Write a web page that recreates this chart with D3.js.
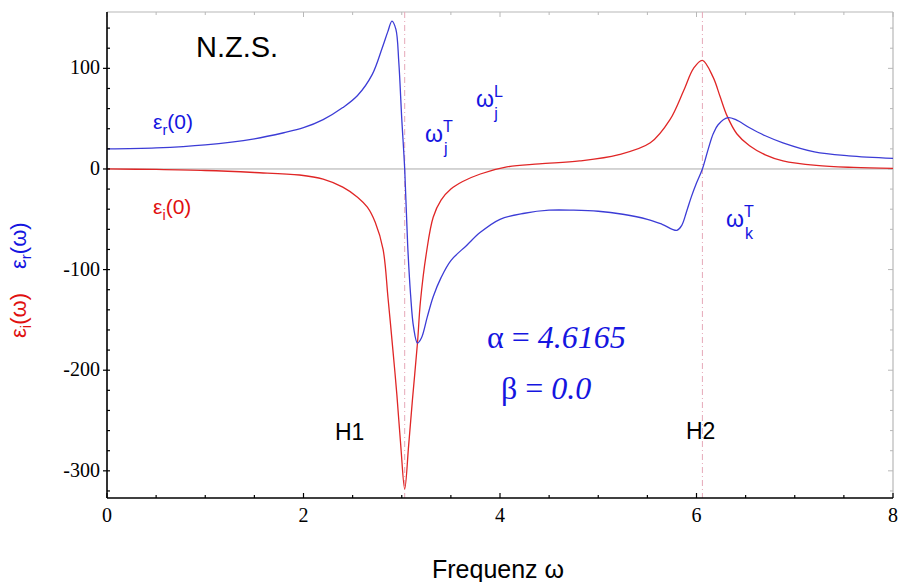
<!DOCTYPE html>
<html>
<head>
<meta charset="utf-8">
<script src="https://cdn.jsdelivr.net/npm/d3@7"></script>
<style>
  body { margin: 0; background: #fff; }
  svg text { font-family: "Liberation Sans", Arial, sans-serif; }
</style>
</head>
<body>
<svg id="chart" width="898" height="582"></svg>
<script>
// values
const realW = [0, 0.5, 1.0, 1.5, 1.8, 2.0, 2.2, 2.4, 2.55, 2.7, 2.8, 2.86, 2.9, 2.94, 2.97, 3.0, 3.03, 3.06, 3.09, 3.12, 3.16, 3.2, 3.26, 3.32, 3.4, 3.5, 3.66, 3.8, 4.0, 4.25, 4.5, 4.75, 5.0, 5.25, 5.5, 5.65, 5.8, 5.85, 5.9, 5.95, 6.0, 6.06, 6.12, 6.17, 6.22, 6.32, 6.4, 6.54, 6.7, 6.88, 7.2, 7.55, 8.0];
const realV = [20, 21, 24, 30, 36, 41, 49, 61, 73, 94, 120, 137, 147, 139, 106, 50, 0, -75, -125, -157, -173, -168, -147, -127, -108, -91, -76, -63, -50, -44, -41, -41, -42, -45, -50, -55, -61, -56, -42, -27, -14, 0, 20, 35, 44, 51, 49, 41, 33, 26, 17, 13, 10.5];
const imagW = [0, 0.5, 1.0, 1.5, 1.96, 2.2, 2.4, 2.55, 2.65, 2.73, 2.81, 2.86, 2.91, 2.95, 2.99, 3.03, 3.07, 3.11, 3.16, 3.19, 3.25, 3.32, 3.4, 3.5, 3.62, 3.8, 4.07, 4.4, 4.81, 5.2, 5.53, 5.73, 5.87, 5.97, 6.06, 6.17, 6.24, 6.31, 6.41, 6.54, 6.7, 6.88, 7.22, 7.6, 8.0];
const imagV = [0, -0.5, -1.5, -3.5, -6, -10, -18, -28, -38, -53, -80, -128, -180, -224, -275, -318, -275, -228, -173, -132, -84, -48, -31, -20, -12.5, -5, 2, 5, 8, 14, 26, 49, 78, 100, 108, 91, 72, 53, 35, 23, 14, 8, 3.5, 1.5, 0.5];
const resonances = [3.03, 6.06];
const xTicks = [0, 2, 4, 6, 8];
const yTicks = [-300, -200, -100, 0, 100];

const opt = {
    left: 107, right: 893, top: 12, bottom: 498,
    blue: '#3c3cd6', red: '#e02626', textBlue: '#1515e0', textRed: '#e01010'
};

const svg = d3.select('#chart');
const x = d3.scaleLinear().domain([0, 8]).range([opt.left, opt.right]);
const y = d3.scaleLinear().domain([-327, 156]).range([opt.bottom, opt.top]);

// frame (top/right grey)
svg.append('line').attr('x1', opt.left).attr('x2', opt.right).attr('y1', opt.top).attr('y2', opt.top)
    .attr('stroke', '#b8b8b8').attr('stroke-width', 1.2);
svg.append('line').attr('x1', opt.right).attr('x2', opt.right).attr('y1', opt.top).attr('y2', opt.bottom)
    .attr('stroke', '#b8b8b8').attr('stroke-width', 1.2);

const xMinor = d3.range(0, 8.01, 0.5);
const yMinor = d3.range(-320, 156, 20);
svg.append('g').selectAll('line').data(xMinor).join('line')
    .attr('x1', d => x(d)).attr('x2', d => x(d))
    .attr('y1', opt.top).attr('y2', d => opt.top + (d % 2 === 0 ? 5 : 3))
    .attr('stroke', '#b8b8b8');
svg.append('g').selectAll('line').data(yMinor).join('line')
    .attr('y1', d => y(d)).attr('y2', d => y(d))
    .attr('x1', opt.right).attr('x2', d => opt.right - (d % 100 === 0 ? 5 : 3))
    .attr('stroke', '#b8b8b8');

// zero line
svg.append('line').attr('x1', opt.left).attr('x2', opt.right).attr('y1', y(0)).attr('y2', y(0))
    .attr('stroke', '#aaaaaa').attr('stroke-width', 1);

// resonance markers
svg.append('g').selectAll('line').data(resonances).join('line')
    .attr('x1', d => x(d)).attr('x2', d => x(d))
    .attr('y1', opt.top).attr('y2', opt.bottom)
    .attr('stroke', '#e6a8b8').attr('stroke-width', 1)
    .attr('stroke-dasharray', '6,3,1,3');

// curves
const line = d3.line().x(d => x(d[0])).y(d => y(d[1])).curve(d3.curveCatmullRom.alpha(0.5));
svg.append('path').datum(imagW.map((w, i) => [w, imagV[i]]))
    .attr('d', line).attr('fill', 'none').attr('stroke', opt.red).attr('stroke-width', 1.3);
svg.append('path').datum(realW.map((w, i) => [w, realV[i]]))
    .attr('d', line).attr('fill', 'none').attr('stroke', opt.blue).attr('stroke-width', 1.3);

// axes (black left/bottom)
const xAxis = svg.append('g').attr('transform', `translate(0,${opt.bottom})`);
xAxis.append('line').attr('x1', opt.left).attr('x2', opt.right).attr('stroke', '#000').attr('stroke-width', 1.6);
xAxis.selectAll('line.tick').data(xMinor).join('line').attr('class', 'tick')
    .attr('x1', d => x(d)).attr('x2', d => x(d))
    .attr('y1', 0).attr('y2', d => (d % 2 === 0 ? -5 : -3))
    .attr('stroke', '#000').attr('stroke-width', 1.2);
xAxis.selectAll('text').data(xTicks).join('text')
    .attr('x', d => x(d)).attr('y', 24)
    .attr('text-anchor', 'middle')
    .style('font-family', '"Liberation Serif", "Times New Roman", serif')
    .style('font-size', '20px')
    .text(d => d);

const yAxis = svg.append('g').attr('transform', `translate(${opt.left},0)`);
yAxis.append('line').attr('y1', opt.top).attr('y2', opt.bottom).attr('stroke', '#000').attr('stroke-width', 1.6);
yAxis.selectAll('line.tick').data(yMinor).join('line').attr('class', 'tick')
    .attr('y1', d => y(d)).attr('y2', d => y(d))
    .attr('x1', d => (d % 100 === 0 ? -4 : 0)).attr('x2', 3)
    .attr('stroke', '#000').attr('stroke-width', 1.2);
yAxis.selectAll('text').data(yTicks).join('text')
    .attr('x', -7).attr('y', d => y(d) + 6)
    .attr('text-anchor', 'end')
    .style('font-family', '"Liberation Serif", "Times New Roman", serif')
    .style('font-size', '20px')
    .text(d => d);

// helper for symbol with sub / sup
function symbol(px, py, base, sub, sup, rest, color, size) {
    const t = svg.append('text').attr('x', px).attr('y', py)
        .attr('fill', color).style('font-size', size + 'px');
    t.append('tspan').text(base);
    if (sup) {
        t.append('tspan').attr('dy', -size * 0.45).style('font-size', (size * 0.7) + 'px').text(sup);
        t.append('tspan').attr('dx', -size * 0.38).attr('dy', size * 0.95).style('font-size', (size * 0.7) + 'px').text(sub);
    } else if (sub) {
        t.append('tspan').attr('dy', size * 0.3).style('font-size', (size * 0.7) + 'px').text(sub);
        t.append('tspan').attr('dy', -size * 0.3).text(rest);
    }
    return t;
}

svg.append('text').attr('x', 196).attr('y', 57).style('font-size', '29px').attr('fill', '#000').text('N.Z.S.');
symbol(153, 129, 'ε', 'r', null, '(0)', opt.textBlue, 21);
symbol(153, 214, 'ε', 'i', null, '(0)', opt.textRed, 21);
symbol(425, 142, 'ω', 'j', 'T', null, opt.textBlue, 23);
symbol(476, 107, 'ω', 'j', 'L', null, opt.textBlue, 23);
symbol(726, 227, 'ω', 'k', 'T', null, opt.textBlue, 23);

svg.append('text').attr('x', 335).attr('y', 440).style('font-size', '23px').text('H1');
svg.append('text').attr('x', 686).attr('y', 439).style('font-size', '23px').text('H2');

const serif = '"Liberation Serif", "Times New Roman", serif';
const alpha = svg.append('text').attr('x', 487).attr('y', 348).attr('fill', opt.textBlue)
    .style('font-family', serif).style('font-size', '32px');
alpha.append('tspan').text('α = ');
alpha.append('tspan').style('font-style', 'italic').text('4.6165');
const beta = svg.append('text').attr('x', 501).attr('y', 399).attr('fill', opt.textBlue)
    .style('font-family', serif).style('font-size', '32px');
beta.append('tspan').text('β = ');
beta.append('tspan').style('font-style', 'italic').text('0.0');

// axis titles
svg.append('text').attr('x', 432).attr('y', 578).style('font-size', '25px').text('Frequenz ω');

const yl = svg.append('text').attr('transform', 'translate(26,338) rotate(-90)').style('font-size', '22px');
yl.append('tspan').attr('fill', opt.textRed).text('ε');
yl.append('tspan').attr('fill', opt.textRed).attr('dy', 5).style('font-size', '15px').text('i');
yl.append('tspan').attr('fill', opt.textRed).attr('dy', -5).text('(ω)');
yl.append('tspan').attr('fill', opt.textBlue).attr('dx', 24).text('ε');
yl.append('tspan').attr('fill', opt.textBlue).attr('dy', 5).style('font-size', '15px').text('r');
yl.append('tspan').attr('fill', opt.textBlue).attr('dy', -5).text('(ω)');
</script>
</body>
</html>
